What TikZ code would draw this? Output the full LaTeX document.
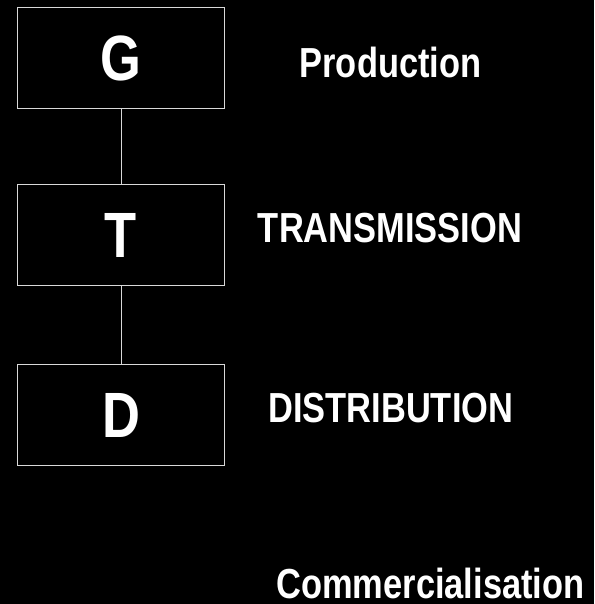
\documentclass[tikz,border=0pt]{standalone}
\usepackage{fontspec}
\setmainfont{Liberation Sans}[FakeStretch=0.82]
\begin{document}
\begin{tikzpicture}[x=1pt,y=-1pt,
  box/.style={draw=white!85!black, line width=1pt, minimum width=207pt, minimum height=101pt, inner sep=0pt, text=white, font=\fontsize{64}{64}\selectfont\bfseries},
  lab/.style={text=white, anchor=base, inner sep=0pt, font=\fontsize{42}{42}\selectfont\bfseries},
  conn/.style={draw=white!85!black, line width=1pt}]
\fill[black] (0,0) rectangle (594,604);
\useasboundingbox (0,0) rectangle (594,604);
\node[box] (G) at (121,58.5) {G};
\node[box] (T) at (121,235.25) {T};
\node[box] (D) at (121,415.25) {D};
\draw[conn] (G.south) -- (T.north);
\draw[conn] (T.south) -- (D.north);
\node[lab] (prod) at (390.5,77.3) {Production};
\node[lab] (trans) at (390,242.3) {TRANSMISSION};
\node[lab] (dist) at (390.8,422.3) {DISTRIBUTION};
\node[lab] (comm) at (430.5,598) {Commercialisation};
\end{tikzpicture}
\end{document}
